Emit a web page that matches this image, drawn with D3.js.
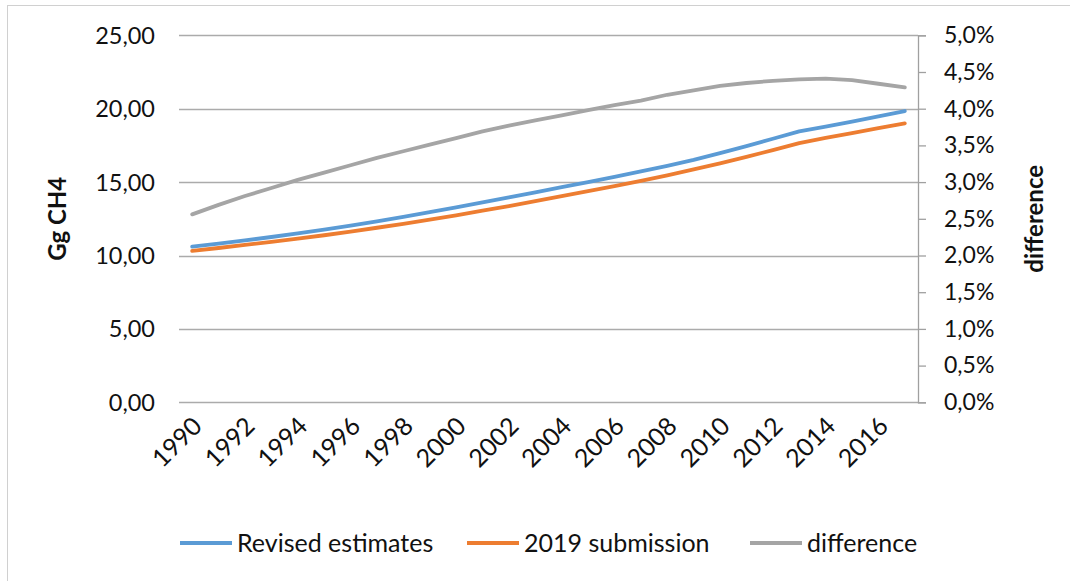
<!DOCTYPE html>
<html>
<head>
<meta charset="utf-8">
<script src="https://cdn.jsdelivr.net/npm/d3@7"></script>
<style>
  html, body { margin: 0; padding: 0; background: #fff; }
  svg { display: block; font-family: Lato, "Open Sans", sans-serif; }
</style>
</head>
<body>
<svg id="chart" width="1070" height="581"></svg>
<script>
// Years on the category axis
const years = d3.range(1990, 2018).map(String);

// Methane emissions, Gg CH4
const revised = [10.60, 10.81, 11.03, 11.26, 11.50, 11.76, 12.04, 12.33, 12.63, 12.95,
                 13.28, 13.62, 13.96, 14.30, 14.65, 15.00, 15.36, 15.73, 16.11, 16.51,
                 16.97, 17.45, 17.95, 18.45, 18.78, 19.12, 19.47, 19.84];
const submission2019 = [10.31, 10.51, 10.72, 10.93, 11.15, 11.38, 11.63, 11.89, 12.16, 12.44,
                        12.74, 13.05, 13.37, 13.70, 14.04, 14.38, 14.72, 15.08, 15.46, 15.86,
                        16.28, 16.72, 17.18, 17.66, 18.01, 18.34, 18.67, 19.00];
// Relative difference between the two estimates (secondary axis)
const difference = [0.0256, 0.0269, 0.0281, 0.0292, 0.0303, 0.0313, 0.0323, 0.0333, 0.0342, 0.0351,
                    0.0360, 0.0369, 0.0377, 0.0384, 0.0391, 0.0398, 0.0405, 0.0411, 0.0419, 0.0425,
                    0.0431, 0.0435, 0.0438, 0.0440, 0.0441, 0.0439, 0.0434, 0.0429];

const leftTicks = [0, 5, 10, 15, 20, 25];
const rightTicks = [0, 0.005, 0.01, 0.015, 0.02, 0.025, 0.03, 0.035, 0.04, 0.045, 0.05];
const yearLabels = years.filter((d, i) => i % 2 === 0);

const seriesNames = ["Revised estimates", "2019 submission", "difference"];
const colors = ["#5B9BD5", "#ED7D31", "#A5A5A5"];

const locale = d3.formatLocale({ decimal: ",", thousands: ".", grouping: [3], currency: ["", " €"] });
const fmtLeft = locale.format(".2f");
const fmtRight = locale.format(".1%");

const svg = d3.select("#chart");
const plot = { left: 179, right: 918, top: 35.3, bottom: 402.3 };

const x = d3.scalePoint().domain(years).range([plot.left, plot.right]).padding(0.5);
const yL = d3.scaleLinear().domain([0, 25]).range([plot.bottom, plot.top]);
const yR = d3.scaleLinear().domain([0, 0.05]).range([plot.bottom, plot.top]);

// chart area frame
svg.append("rect")
  .attr("x", 7.5).attr("y", 5.5).attr("width", 1080).attr("height", 600)
  .attr("fill", "none").attr("stroke", "#d0d0d0").attr("stroke-width", 1);

// horizontal gridlines on the primary axis
svg.append("g").selectAll("line").data(leftTicks).join("line")
  .attr("x1", plot.left).attr("x2", plot.right)
  .attr("y1", d => Math.round(yL(d)) + 0.5).attr("y2", d => Math.round(yL(d)) + 0.5)
  .attr("stroke", "#ababab").attr("stroke-width", 1.3);

// left axis labels
svg.append("g").selectAll("text").data(leftTicks).join("text")
  .attr("x", 155).attr("y", d => yL(d))
  .attr("dy", "0.36em").attr("text-anchor", "end")
  .attr("font-size", 23.5).attr("fill", "#111")
  .text(fmtLeft);

// right axis with minor ticks
const rightAxis = d3.axisRight(yR).tickValues(rightTicks).tickSize(8).tickPadding(18).tickFormat(fmtRight);
const gR = svg.append("g").attr("transform", `translate(${plot.right},0)`).call(rightAxis);
gR.select(".domain").attr("stroke", "#a0a0a0").attr("stroke-width", 1.3);
gR.selectAll(".tick line").attr("stroke", "#a0a0a0").attr("stroke-width", 1.3);
gR.selectAll(".tick text").attr("font-size", 23).attr("fill", "#111")
  .attr("font-family", "Lato, 'Open Sans', sans-serif");

// axis titles
svg.append("text")
  .attr("transform", `translate(66,${(plot.top + plot.bottom) / 2}) rotate(-90)`)
  .attr("text-anchor", "middle").attr("font-size", 24).attr("font-weight", "bold")
  .attr("fill", "#111").text("Gg CH4");
svg.append("text")
  .attr("transform", `translate(1043,${(plot.top + plot.bottom) / 2}) rotate(-90)`)
  .attr("text-anchor", "middle").attr("font-size", 24).attr("font-weight", "bold")
  .attr("fill", "#111").text("difference");

// rotated year labels
svg.append("g").selectAll("text").data(yearLabels).join("text")
  .attr("transform", d => `translate(${x(d) + 5},${plot.bottom + 19}) rotate(-45)`)
  .attr("text-anchor", "end").attr("dy", "0.36em")
  .attr("font-size", 25).attr("fill", "#111")
  .text(d => d);

// series lines
const lineL = d3.line().x((d, i) => x(years[i])).y(d => yL(d));
const lineR = d3.line().x((d, i) => x(years[i])).y(d => yR(d));

const lines = svg.append("g").attr("fill", "none").attr("stroke-width", 3.8)
  .attr("stroke-linejoin", "round").attr("stroke-linecap", "round");
lines.append("path").attr("d", lineR(difference)).attr("stroke", colors[2]);
lines.append("path").attr("d", lineL(submission2019)).attr("stroke", colors[1]);
lines.append("path").attr("d", lineL(revised)).attr("stroke", colors[0]);

// legend
const legendItems = [
  { name: seriesNames[0], color: colors[0], x: 180 },
  { name: seriesNames[1], color: colors[1], x: 467 },
  { name: seriesNames[2], color: colors[2], x: 750 }
];
const lg = svg.append("g").selectAll("g").data(legendItems).join("g")
  .attr("transform", d => `translate(${d.x},543)`);
lg.append("line").attr("x1", 0).attr("x2", 52).attr("y1", 0).attr("y2", 0)
  .attr("stroke", d => d.color).attr("stroke-width", 3.8);
lg.append("text").attr("x", 57).attr("dy", "0.36em")
  .attr("font-size", 25).attr("fill", "#111").text(d => d.name);
</script>
</body>
</html>
